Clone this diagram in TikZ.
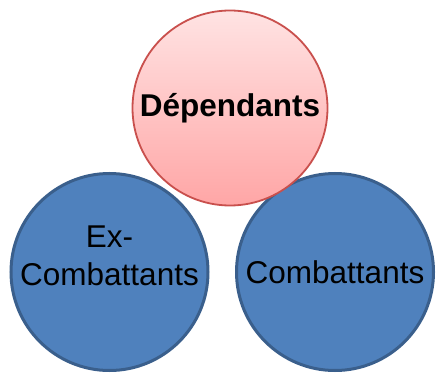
\documentclass[tikz,border=0pt]{standalone}
\usepackage{fontspec}
\setmainfont{Liberation Sans}
\definecolor{bluefill}{HTML}{4F81BD}
\definecolor{blueline}{HTML}{3A5F8C}
\definecolor{pinktop}{HTML}{FFE3E3}
\definecolor{pinkbot}{HTML}{FFA6A6}
\definecolor{pinkline}{HTML}{C9504D}
\begin{document}
\begin{tikzpicture}[x=1pt,y=-1pt,
  bluecirc/.style={circle, fill=bluefill, draw=blueline, line width=3pt, minimum size=197pt, inner sep=0pt, align=center, font=\fontsize{31.5}{38}\selectfont},
  pinkcirc/.style={circle, top color=pinktop, bottom color=pinkbot, draw=pinkline, line width=1.8pt, minimum size=195pt, inner sep=0pt, align=center, font=\fontsize{31.5}{38}\selectfont\bfseries},
  txt/.style={align=center, inner sep=0pt, font=\fontsize{31.5}{38}\selectfont}]
\useasboundingbox (0,0) rectangle (436,374);
\node[bluecirc] (ex) at (109.5,272) {};
\node[txt] (extext) at ([yshift=16pt]ex.center) {Ex-\\Combattants};
\node[bluecirc] (comb) at (335,272) {Combattants};
\node[pinkcirc] (dep) at (230,108) {Dépendants};
\end{tikzpicture}
\end{document}
